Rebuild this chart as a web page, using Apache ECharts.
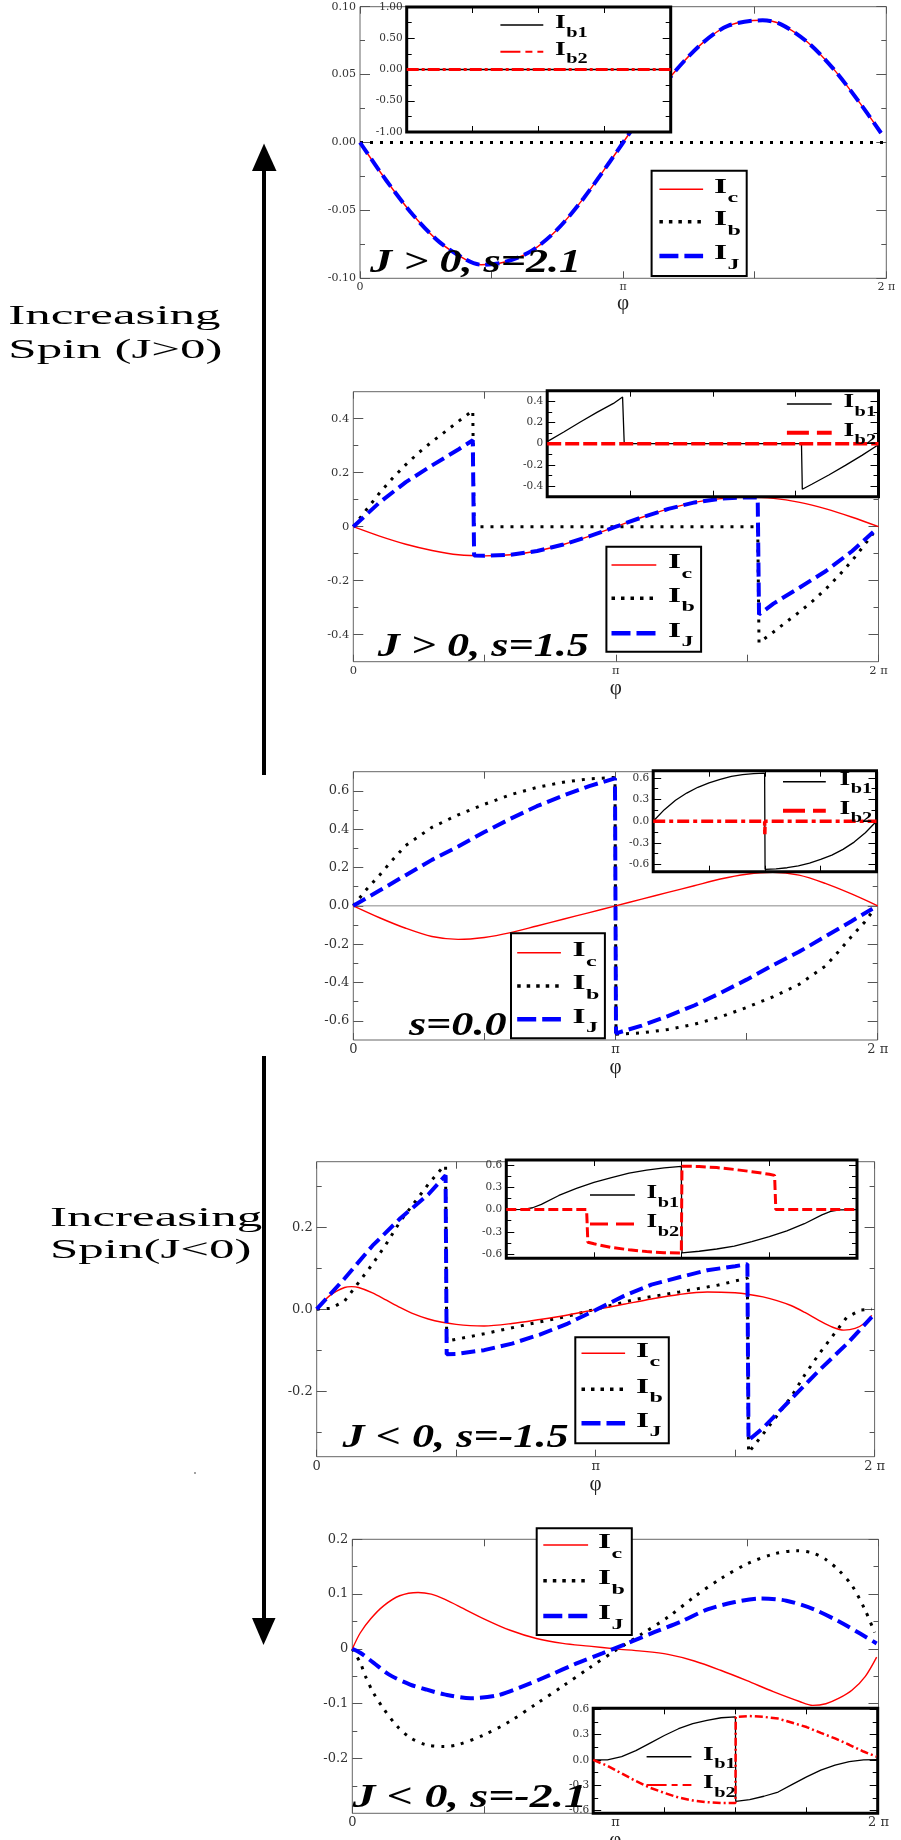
<!DOCTYPE html>
<html>
<head>
<meta charset="utf-8">
<script src="https://cdn.jsdelivr.net/npm/echarts@6.0.0/dist/echarts.min.js"></script>
<style>
html,body{margin:0;padding:0;background:#fff;}
#chart{width:901px;height:1840px;}
</style>
</head>
<body>
<div id="chart"></div>
<script>
// x is phi in units of pi (0 .. 2)
var xTicks = [0, 0.5, 1, 1.5, 2];
var xLabelVals = [0, 1, 2];
var xInsetTicks = [0.5, 1, 1.5];

// ---- panel 1 : J > 0, s=2.1
var p1YMajor = [-0.1, -0.05, 0, 0.05, 0.1];
var p1YMinor = [-0.075, -0.025, 0.025, 0.075];
var p1Ic = [[0,0],[0.1,-0.028],[0.2,-0.053],[0.3,-0.073],[0.4,-0.086],[0.46,-0.09],[0.55,-0.088],[0.65,-0.08],[0.75,-0.064],[0.85,-0.041],[0.95,-0.014],[1.0,0.0],[1.1,0.028],[1.2,0.053],[1.3,0.073],[1.4,0.086],[1.53,0.09],[1.6,0.087],[1.7,0.074],[1.8,0.054],[1.9,0.029],[1.98,0.007]];
var p1Ib = [[0,0],[2,0]];
var p1IJ = [[0,0],[0.1,-0.028],[0.2,-0.053],[0.3,-0.073],[0.4,-0.086],[0.46,-0.09],[0.55,-0.088],[0.65,-0.08],[0.75,-0.064],[0.85,-0.041],[0.95,-0.014],[1.0,0.0],[1.1,0.028],[1.2,0.053],[1.3,0.073],[1.4,0.086],[1.53,0.09],[1.6,0.087],[1.7,0.074],[1.8,0.054],[1.9,0.029],[1.98,0.007]];
var i1YMajor = [-1, -0.5, 0, 0.5, 1];
var i1YMinor = [-0.75, -0.25, 0.25, 0.75];
var p1Ib1 = [[0,0],[2,0]];
var p1Ib2 = [[0,0],[2,0]];

// ---- panel 2 : J > 0, s=1.5
var p2YMajor = [-0.4, -0.2, 0, 0.2, 0.4];
var p2YMinor = [-0.3, -0.1, 0.1, 0.3];
var p2Ic = [[0,0],[0.1,-0.035],[0.2,-0.065],[0.3,-0.088],[0.4,-0.104],[0.5,-0.108],[0.6,-0.104],[0.7,-0.09],[0.8,-0.066],[0.9,-0.035],[1.0,0],[1.1,0.035],[1.2,0.066],[1.3,0.09],[1.4,0.104],[1.5,0.109],[1.6,0.105],[1.7,0.09],[1.8,0.066],[1.9,0.035],[2.0,0]];
var p2Ib = [[0,0],[0.05,0.063],[0.1,0.125],[0.15,0.18],[0.2,0.23],[0.25,0.275],[0.3,0.315],[0.35,0.352],[0.4,0.39],[0.455,0.43],[0.46,0],[1.54,0],[1.545,-0.43],[1.6,-0.39],[1.65,-0.352],[1.7,-0.315],[1.75,-0.275],[1.8,-0.23],[1.85,-0.18],[1.9,-0.125],[1.95,-0.063],[1.98,-0.025]];
var p2IJ = [[0,0],[0.1,0.09],[0.2,0.165],[0.3,0.227],[0.4,0.286],[0.455,0.32],[0.46,-0.107],[0.5,-0.108],[0.6,-0.104],[0.7,-0.09],[0.8,-0.066],[0.9,-0.035],[1.0,0],[1.1,0.035],[1.2,0.066],[1.3,0.09],[1.4,0.104],[1.5,0.109],[1.54,0.108],[1.545,-0.325],[1.6,-0.285],[1.7,-0.225],[1.8,-0.164],[1.9,-0.09],[1.98,-0.02]];
var i2YMajor = [-0.4, -0.2, 0, 0.2, 0.4];
var i2YMinor = [-0.3, -0.1, 0.1, 0.3];
var p2Ib1 = [[0,0.02],[0.1,0.11],[0.2,0.205],[0.3,0.295],[0.4,0.38],[0.455,0.44],[0.465,0],[1.535,0],[1.54,-0.43],[1.6,-0.38],[1.7,-0.295],[1.8,-0.205],[1.9,-0.11],[1.99,-0.02]];
var p2Ib2 = [[0,0],[2,0]];

// ---- panel 3 : s=0.0
var p3YMajor = [-0.6, -0.4, -0.2, 0, 0.2, 0.4, 0.6];
var p3YMinor = [-0.5, -0.3, -0.1, 0.1, 0.3, 0.5];
var p3Zero = [[0,0],[2,0]];
var p3Ic = [[0,0],[0.1,-0.062],[0.2,-0.117],[0.3,-0.16],[0.4,-0.175],[0.5,-0.165],[0.6,-0.14],[0.7,-0.105],[0.8,-0.07],[0.9,-0.035],[1,0],[1.1,0.035],[1.2,0.07],[1.3,0.105],[1.4,0.14],[1.5,0.165],[1.6,0.175],[1.7,0.16],[1.8,0.117],[1.9,0.062],[2,0]];
var p3Ib = [[0,0],[0.05,0.085],[0.1,0.16],[0.15,0.24],[0.2,0.315],[0.3,0.41],[0.4,0.475],[0.5,0.53],[0.6,0.58],[0.7,0.618],[0.8,0.645],[0.9,0.663],[0.998,0.67],[1.002,-0.67],[1.1,-0.663],[1.2,-0.645],[1.3,-0.618],[1.4,-0.58],[1.5,-0.53],[1.6,-0.475],[1.7,-0.41],[1.8,-0.315],[1.85,-0.24],[1.9,-0.16],[1.95,-0.085],[1.98,-0.03]];
var p3IJ = [[0,0],[0.1,0.08],[0.2,0.16],[0.3,0.24],[0.4,0.31],[0.5,0.385],[0.6,0.455],[0.7,0.52],[0.8,0.575],[0.9,0.625],[0.998,0.665],[1.002,-0.665],[1.1,-0.625],[1.2,-0.575],[1.3,-0.52],[1.4,-0.455],[1.5,-0.385],[1.6,-0.31],[1.7,-0.24],[1.8,-0.16],[1.9,-0.08],[1.98,-0.015]];
var i3YMajor = [-0.6, -0.3, 0, 0.3, 0.6];
var i3YMinor = [-0.45, -0.15, 0.15, 0.45];
var p3Ib1 = [[0,0],[0.1,0.16],[0.2,0.29],[0.3,0.39],[0.4,0.47],[0.5,0.53],[0.6,0.58],[0.7,0.62],[0.8,0.645],[0.9,0.66],[0.998,0.667],[1.002,-0.667],[1.1,-0.66],[1.2,-0.645],[1.3,-0.62],[1.4,-0.58],[1.5,-0.53],[1.6,-0.47],[1.7,-0.39],[1.8,-0.29],[1.9,-0.16],[2,0]];
var p3Ib2 = [[0,0],[0.998,0],[1.0,-0.18],[1.002,0],[2,0]];

// ---- panel 4 : J < 0, s=-1.5
var p4YMajor = [-0.2, 0, 0.2];
var p4YMinor = [-0.3, -0.1, 0.1, 0.3];
var p4Ic = [[0,0],[0.05,0.035],[0.1,0.053],[0.125,0.055],[0.15,0.053],[0.2,0.04],[0.25,0.022],[0.3,0.004],[0.35,-0.012],[0.4,-0.024],[0.45,-0.032],[0.5,-0.037],[0.55,-0.04],[0.6,-0.041],[0.7,-0.035],[0.8,-0.025],[0.9,-0.014],[1.0,-0.001],[1.1,0.012],[1.2,0.025],[1.3,0.036],[1.4,0.042],[1.5,0.04],[1.55,0.036],[1.6,0.03],[1.65,0.021],[1.7,0.009],[1.75,-0.008],[1.8,-0.027],[1.85,-0.044],[1.89,-0.051],[1.93,-0.047],[1.96,-0.036],[1.99,-0.015]];
var p4Ib = [[0,0],[0.05,0.002],[0.1,0.02],[0.15,0.065],[0.2,0.11],[0.25,0.16],[0.3,0.215],[0.35,0.26],[0.4,0.305],[0.45,0.345],[0.462,0.35],[0.466,-0.078],[0.6,-0.06],[0.75,-0.038],[0.9,-0.017],[1.0,0],[1.15,0.025],[1.3,0.042],[1.44,0.059],[1.544,0.076],[1.548,-0.35],[1.6,-0.305],[1.65,-0.26],[1.7,-0.215],[1.75,-0.16],[1.8,-0.11],[1.85,-0.065],[1.9,-0.02],[1.95,-0.002],[1.99,0.0]];
var p4IJ = [[0,0],[0.1,0.075],[0.2,0.155],[0.3,0.222],[0.4,0.28],[0.462,0.327],[0.466,-0.11],[0.5,-0.109],[0.6,-0.1],[0.7,-0.084],[0.8,-0.062],[0.9,-0.035],[1.0,-0.002],[1.1,0.032],[1.2,0.06],[1.3,0.078],[1.4,0.095],[1.5,0.105],[1.544,0.11],[1.548,-0.32],[1.6,-0.29],[1.7,-0.22],[1.8,-0.15],[1.9,-0.085],[1.99,-0.019]];
var i4YMajor = [-0.6, -0.3, 0, 0.3, 0.6];
var i4YMinor = [-0.45, -0.15, 0.15, 0.45];
var p4Ib1 = [[0,0],[0.1,0.003],[0.15,0.025],[0.2,0.07],[0.3,0.19],[0.4,0.285],[0.5,0.365],[0.6,0.43],[0.7,0.49],[0.8,0.53],[0.9,0.56],[0.998,0.582],[1.002,-0.582],[1.1,-0.56],[1.2,-0.53],[1.3,-0.49],[1.4,-0.43],[1.5,-0.365],[1.6,-0.285],[1.7,-0.19],[1.8,-0.07],[1.85,-0.025],[1.9,-0.003],[2,0]];
var p4Ib2 = [[0,0],[0.458,0],[0.465,-0.44],[0.5,-0.46],[0.6,-0.51],[0.7,-0.54],[0.8,-0.565],[0.9,-0.58],[0.998,-0.584],[1.002,0.584],[1.1,0.58],[1.2,0.565],[1.3,0.54],[1.4,0.51],[1.5,0.475],[1.53,0.46],[1.537,0],[2,0]];

// ---- panel 5 : J < 0, s=-2.1
var p5YMajor = [-0.2, -0.1, 0, 0.1, 0.2];
var p5YMinor = [-0.25, -0.15, -0.05, 0.05, 0.15];
var p5Ic = [[0,0],[0.03,0.029],[0.07,0.055],[0.12,0.079],[0.18,0.097],[0.25,0.103],[0.3,0.1],[0.35,0.091],[0.4,0.079],[0.5,0.055],[0.6,0.034],[0.7,0.019],[0.8,0.01],[0.9,0.005],[1.0,0.0],[1.1,-0.004],[1.2,-0.01],[1.3,-0.022],[1.4,-0.039],[1.5,-0.058],[1.6,-0.078],[1.7,-0.096],[1.75,-0.103],[1.8,-0.1],[1.85,-0.09],[1.9,-0.075],[1.95,-0.05],[1.993,-0.015]];
var p5Ib = [[0,0],[0.03,-0.025],[0.05,-0.05],[0.08,-0.08],[0.12,-0.11],[0.17,-0.141],[0.22,-0.162],[0.28,-0.175],[0.35,-0.178],[0.4,-0.175],[0.5,-0.157],[0.6,-0.132],[0.7,-0.1],[0.8,-0.068],[0.9,-0.035],[1.0,-0.003],[1.1,0.027],[1.2,0.058],[1.3,0.095],[1.4,0.128],[1.5,0.155],[1.6,0.173],[1.69,0.179],[1.75,0.175],[1.8,0.163],[1.85,0.143],[1.9,0.115],[1.95,0.07],[1.985,0.03]];
var p5IJ = [[0,0],[0.03,-0.007],[0.08,-0.025],[0.14,-0.047],[0.22,-0.065],[0.28,-0.074],[0.35,-0.083],[0.45,-0.09],[0.55,-0.085],[0.65,-0.068],[0.75,-0.048],[0.85,-0.027],[0.95,-0.008],[1.05,0.011],[1.15,0.031],[1.25,0.05],[1.35,0.072],[1.45,0.085],[1.55,0.092],[1.65,0.088],[1.75,0.073],[1.85,0.05],[1.93,0.028],[1.993,0.01]];
var i5YMajor = [-0.6, -0.3, 0, 0.3, 0.6];
var i5YMinor = [-0.45, -0.15, 0.15, 0.45];
var p5Ib1 = [[0,0],[0.1,0.002],[0.2,0.04],[0.3,0.11],[0.4,0.2],[0.5,0.29],[0.6,0.37],[0.7,0.43],[0.8,0.47],[0.9,0.5],[1.0,0.51],[1.002,-0.49],[1.1,-0.47],[1.2,-0.43],[1.3,-0.38],[1.4,-0.29],[1.5,-0.2],[1.6,-0.12],[1.7,-0.06],[1.8,-0.02],[1.9,0.0],[2.0,0.005]];
var p5Ib2 = [[0,0],[0.1,-0.07],[0.2,-0.16],[0.3,-0.25],[0.4,-0.33],[0.5,-0.39],[0.6,-0.445],[0.7,-0.48],[0.8,-0.5],[0.9,-0.51],[1.0,-0.51],[1.002,0.51],[1.1,0.52],[1.2,0.51],[1.3,0.49],[1.4,0.44],[1.5,0.39],[1.6,0.32],[1.7,0.255],[1.8,0.18],[1.9,0.1],[1.99,0.04]];

var chart = echarts.init(document.getElementById('chart'));
var grids = [], xAxes = [], yAxes = [], series = [], graphics = [];
var SERIF = 'Liberation Serif';

function fmt(dec, zeroStr) {
  return function (v) {
    if (zeroStr && Math.abs(v) < 1e-9) return zeroStr;
    return (+v).toFixed(dec);
  };
}
function piLabel(v) {
  if (Math.abs(v) < 1e-9) return '0';
  if (Math.abs(v - 1) < 1e-9) return 'π';
  return '2 π';
}

function addBox(p, inset) {
  var g = grids.length;
  var tickCol = inset ? '#000' : '#555';
  var z = inset ? 4 : 0;
  grids.push({
    left: p.box[0], top: p.box[1], width: p.box[2], height: p.box[3],
    show: true, containLabel: false, outerBoundsMode: 'none',
    borderColor: inset ? '#000' : '#666', borderWidth: inset ? 3 : 1,
    backgroundColor: inset ? '#fff' : 'rgba(0,0,0,0)', z: inset ? 3 : 0
  });
  var lab = { fontFamily: 'DejaVu Serif', fontSize: p.fs, color: '#333' };
  var xi = xAxes.length;
  ['bottom', 'top'].forEach(function (pos) {
    var ax = {
      gridIndex: g, type: 'value', min: 0, max: 2, position: pos, z: z,
      splitLine: { show: false }, axisLine: { show: false, onZero: false },
      axisTick: { show: true, inside: true, length: inset ? 6 : 7, customValues: inset ? xInsetTicks : xTicks, lineStyle: { color: tickCol } },
      axisLabel: { show: false }
    };
    if (pos === 'bottom' && !inset) {
      ax.axisLabel = Object.assign({ show: true, customValues: xLabelVals, formatter: piLabel, margin: 3 }, lab);
      ax.name = 'φ';
      ax.nameLocation = 'middle';
      ax.nameGap = 7;
      ax.nameTextStyle = { fontFamily: SERIF, fontSize: 21, color: '#222' };
    }
    xAxes.push(ax);
  });
  var yi = yAxes.length;
  ['left', 'right'].forEach(function (pos) {
    yAxes.push({
      gridIndex: g, type: 'value', min: p.yMin, max: p.yMax, position: pos, z: z,
      splitLine: { show: false }, axisLine: { show: false, onZero: false },
      axisTick: { show: true, inside: true, length: inset ? 8 : 10, customValues: p.yMajor, lineStyle: { color: tickCol } },
      axisLabel: pos === 'left' ? Object.assign({ show: true, customValues: p.yMajor, formatter: p.fmt, margin: 4 }, lab) : { show: false }
    });
    yAxes.push({
      gridIndex: g, type: 'value', min: p.yMin, max: p.yMax, position: pos, z: z,
      splitLine: { show: false }, axisLine: { show: false, onZero: false },
      axisTick: { show: true, inside: true, length: 5, customValues: p.yMinor, lineStyle: { color: tickCol } },
      axisLabel: { show: false }
    });
  });
  return { xi: xi, yi: yi, inset: inset };
}

function addLine(ax, name, data, st, smooth) {
  series.push({
    type: 'line', name: name, xAxisIndex: ax.xi, yAxisIndex: ax.yi, data: data,
    symbol: 'none', showSymbol: false, smooth: smooth ? 0.3 : false, silent: true,
    z: ax.inset ? 5 : 2,
    lineStyle: { color: st.color, width: st.width, type: st.type || 'solid', cap: 'butt' }
  });
}

var stIc = { color: '#ff0000', width: 1.4 };
var stIb = { color: '#000000', width: 3, type: [3, 7] };
var stIJ = { color: '#0000ff', width: 4, type: [14, 6] };
var stIb1 = { color: '#000000', width: 1.3 };
var stZero = { color: '#888888', width: 1 };

// legend styles
var lgIc = { color: '#ff0000', width: 1.5 };
var lgIb = { color: '#000000', width: 3.5, type: [3.5, 6] };
var lgIJ = { color: '#0000ff', width: 4.5, type: [19, 6] };
var lgIb1 = { color: '#000000', width: 1.5 };

function txt(x, y, text, font, sx, z) {
  return {
    type: 'text', x: x, y: y, scaleX: sx || 1, z: z || 30,
    style: { text: text, x: 0, y: 0, font: font, fill: '#000', align: 'left', verticalAlign: 'middle', textAlign: 'left', textVerticalAlign: 'middle' }
  };
}
function segment(x1, x2, y, st) {
  return {
    type: 'line', z: 30, shape: { x1: x1, y1: y, x2: x2, y2: y },
    style: { stroke: st.color, lineWidth: st.width, lineDash: st.type || null }
  };
}
function sub(x, y, s, big, small, sx) {
  return [
    txt(x, y - 2, 'I', 'bold ' + big + 'px "' + SERIF + '"', sx),
    txt(x + big * 0.389 * sx + 0.5, y + 9, s, 'bold ' + small + 'px "' + SERIF + '"', sx)
  ];
}
function mainLegend(L) {
  graphics.push({ type: 'rect', z: 29, shape: { x: L.box[0], y: L.box[1], width: L.box[2], height: L.box[3] }, style: { fill: '#fff', stroke: '#000', lineWidth: 2 } });
  [['c', lgIc], ['b', lgIb], ['J', lgIJ]].forEach(function (e, i) {
    graphics.push(segment(L.lx[0], L.lx[1], L.ys[i], e[1]));
    sub(L.tx, L.ys[i], e[0], 21, 15, 1.6).forEach(function (t) { graphics.push(t); });
  });
}
function insetLegend(L, st2) {
  [['b1', lgIb1], ['b2', st2]].forEach(function (e, i) {
    graphics.push(segment(L.lx[0], L.lx[1], L.ys[i], e[1]));
    var t = sub(L.tx, L.ys[i], e[0], 19, 14, 1.45);
    t[1].y = L.ys[i] + 8;
    t.forEach(function (q) { graphics.push(q); });
  });
}

// ---- panel 1
var a1 = addBox({ box: [360, 6.7, 526.3, 271.6], yMin: -0.1, yMax: 0.1, yMajor: p1YMajor, yMinor: p1YMinor, fmt: fmt(2), fs: 11 }, false);
addLine(a1, 'Ib', p1Ib, stIb);
addLine(a1, 'Ic', p1Ic, stIc, true);
addLine(a1, 'IJ', p1IJ, stIJ, true);
var b1 = addBox({ box: [406.7, 7, 264, 125], yMin: -1, yMax: 1, yMajor: i1YMajor, yMinor: i1YMinor, fmt: fmt(2), fs: 10.5 }, true);
addLine(b1, 'Ib1', p1Ib1, stIb1);
addLine(b1, 'Ib2', p1Ib2, { color: '#ff0000', width: 3, type: [12, 3, 3, 3] });

// ---- panel 2
var a2 = addBox({ box: [353.3, 391.7, 525.2, 270], yMin: -0.5, yMax: 0.5, yMajor: p2YMajor, yMinor: p2YMinor, fmt: fmt(1, '0'), fs: 11.5 }, false);
addLine(a2, 'Ib', p2Ib, stIb);
addLine(a2, 'Ic', p2Ic, stIc, true);
addLine(a2, 'IJ', p2IJ, stIJ);
var b2 = addBox({ box: [547.2, 390.7, 331.3, 106], yMin: -0.5, yMax: 0.5, yMajor: i2YMajor, yMinor: i2YMinor, fmt: fmt(1, '0'), fs: 10.5 }, true);
addLine(b2, 'Ib1', p2Ib1, stIb1);
addLine(b2, 'Ib2', p2Ib2, { color: '#ff0000', width: 3.5, type: [14, 4] });

// ---- panel 3
var a3 = addBox({ box: [353.3, 771.7, 524.4, 268.3], yMin: -0.7, yMax: 0.7, yMajor: p3YMajor, yMinor: p3YMinor, fmt: fmt(1), fs: 13 }, false);
addLine(a3, 'zero', p3Zero, stZero);
addLine(a3, 'Ib', p3Ib, stIb);
addLine(a3, 'Ic', p3Ic, stIc, true);
addLine(a3, 'IJ', p3IJ, stIJ);
var b3 = addBox({ box: [653.2, 770.7, 223.3, 101], yMin: -0.7, yMax: 0.7, yMajor: i3YMajor, yMinor: i3YMinor, fmt: fmt(1), fs: 10.5 }, true);
addLine(b3, 'Ib1', p3Ib1, stIb1);
addLine(b3, 'Ib2', p3Ib2, { color: '#ff0000', width: 3.5, type: [12, 4, 4, 4] });

// ---- panel 4
var a4 = addBox({ box: [316.7, 1161.7, 557.9, 295], yMin: -0.36, yMax: 0.36, yMajor: p4YMajor, yMinor: p4YMinor, fmt: fmt(1), fs: 13 }, false);
addLine(a4, 'Ib', p4Ib, stIb);
addLine(a4, 'Ic', p4Ic, stIc, true);
addLine(a4, 'IJ', p4IJ, stIJ);
var b4 = addBox({ box: [506.3, 1160, 350.7, 98.3], yMin: -0.655, yMax: 0.667, yMajor: i4YMajor, yMinor: i4YMinor, fmt: fmt(1), fs: 10.5 }, true);
addLine(b4, 'Ib1', p4Ib1, stIb1);
addLine(b4, 'Ib2', p4Ib2, { color: '#ff0000', width: 3, type: [10, 4] });

// ---- panel 5
var a5 = addBox({ box: [352.3, 1539.3, 526.2, 274], yMin: -0.3, yMax: 0.2, yMajor: p5YMajor, yMinor: p5YMinor, fmt: fmt(1, '0'), fs: 13 }, false);
addLine(a5, 'Ib', p5Ib, stIb, true);
addLine(a5, 'Ic', p5Ic, stIc, true);
addLine(a5, 'IJ', p5IJ, stIJ, true);
var b5 = addBox({ box: [593.2, 1708.3, 284.5, 105], yMin: -0.632, yMax: 0.612, yMajor: i5YMajor, yMinor: i5YMinor, fmt: fmt(1), fs: 10.5 }, true);
addLine(b5, 'Ib1', p5Ib1, stIb1);
addLine(b5, 'Ib2', p5Ib2, { color: '#ff0000', width: 2.5, type: [8, 3, 2, 3] });

// ---- legends
mainLegend({ box: [651.6, 170.7, 95.1, 105.3], ys: [189.3, 221.7, 256], lx: [659.4, 703.1], tx: 714 });
mainLegend({ box: [606.4, 546.7, 94.7, 105], ys: [565, 598.3, 633.3], lx: [611.5, 656.3], tx: 668 });
mainLegend({ box: [511, 933.3, 93.9, 105], ys: [952.7, 986, 1019.3], lx: [517.2, 560.9], tx: 572.5 });
mainLegend({ box: [575.3, 1337.3, 93.5, 106], ys: [1353.3, 1389.3, 1423.3], lx: [581.5, 625.1], tx: 636 });
mainLegend({ box: [536.7, 1528.3, 95.1, 106.7], ys: [1545, 1580.7, 1616], lx: [543.3, 588.1], tx: 597.9 });

insetLegend({ ys: [25, 51.7], lx: [500.4, 543.3], tx: 555 }, { color: '#ff0000', width: 2, type: [20, 5, 7, 5] });
insetLegend({ ys: [404, 432.7], lx: [786.9, 831.7], tx: 843.4 }, { color: '#ff0000', width: 4, type: [22, 8] });
insetLegend({ ys: [781.7, 810.7], lx: [783, 825.8], tx: 839.5 }, { color: '#ff0000', width: 4, type: [22, 8] });
insetLegend({ ys: [1195, 1224], lx: [590, 634.9], tx: 646.6 }, { color: '#ff0000', width: 3, type: [18, 8] });
insetLegend({ ys: [1756.7, 1785], lx: [646.6, 691.4], tx: 703.1 }, { color: '#ff0000', width: 2, type: [20, 5, 6, 5] });

// ---- panel captions
var capFont = 'italic bold 34px "' + SERIF + '"';
graphics.push(txt(370, 263.5, 'J > 0, s=2.1', capFont, 1.3, 40));
graphics.push(txt(377.7, 647, 'J > 0, s=1.5', capFont, 1.3, 40));
graphics.push(txt(408.9, 1026.5, 's=0.0', capFont, 1.3, 40));
graphics.push(txt(342.6, 1438.5, 'J < 0, s=-1.5', capFont, 1.3, 40));
graphics.push(txt(352.4, 1798.5, 'J < 0, s=-2.1', capFont, 1.35, 40));

// ---- side arrows and notes
var sideFont = '28px "' + SERIF + '"';
graphics.push(txt(8.3, 317, 'Increasing', sideFont, 1.82));
graphics.push(txt(8.3, 350.5, 'Spin (J>0)', sideFont, 1.82));
graphics.push(txt(50, 1218.5, 'Increasing', sideFont, 1.82));
graphics.push(txt(50, 1251, 'Spin(J<0)', sideFont, 1.82));
graphics.push({ type: 'line', z: 30, shape: { x1: 264, y1: 168, x2: 264, y2: 775 }, style: { stroke: '#000', lineWidth: 4 } });
graphics.push({ type: 'polygon', z: 30, shape: { points: [[252, 171], [276.5, 171], [264, 143.5]] }, style: { fill: '#000' } });
graphics.push({ type: 'line', z: 30, shape: { x1: 264, y1: 1056, x2: 264, y2: 1621 }, style: { stroke: '#000', lineWidth: 4 } });
graphics.push({ type: 'polygon', z: 30, shape: { points: [[252, 1618], [275.5, 1618], [263.5, 1645]] }, style: { fill: '#000' } });
graphics.push({ type: 'circle', z: 30, shape: { cx: 195, cy: 1473, r: 0.9 }, style: { fill: '#777' } });

chart.setOption({
  animation: false,
  backgroundColor: '#fff',
  grid: grids,
  xAxis: xAxes,
  yAxis: yAxes,
  series: series,
  graphic: { elements: graphics }
});
</script>
</body>
</html>
